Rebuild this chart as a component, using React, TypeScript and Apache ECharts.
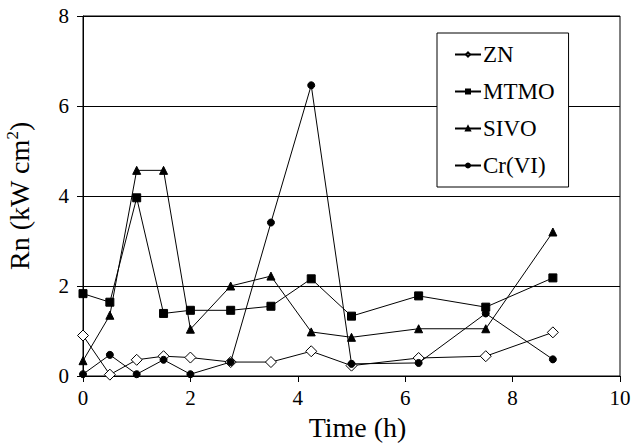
import React, { useEffect, useRef } from "react";
import * as echarts from "echarts";

const timeH = [0, 0.5, 1, 1.5, 2, 2.75, 3.5, 4.25, 5, 6.25, 7.5, 8.75];
const znValues = [0.9, 0.03, 0.36, 0.44, 0.41, 0.31, 0.31, 0.55, 0.23, 0.4, 0.44, 0.97];
const mtmoValues = [1.83, 1.64, 3.96, 1.39, 1.46, 1.46, 1.55, 2.16, 1.33, 1.78, 1.53, 2.18];
const sivoValues = [0.34, 1.35, 4.57, 4.57, 1.04, 2.0, 2.22, 0.98, 0.86, 1.05, 1.05, 3.2];
const crValues = [0.04, 0.47, 0.04, 0.36, 0.04, 0.31, 3.41, 6.46, 0.27, 0.29, 1.39, 0.37];
const seriesNames = ["ZN", "MTMO", "SIVO", "Cr(VI)"];

const FONT = "'Times New Roman', 'Liberation Serif', serif";

export default function App() {
  const ref = useRef<HTMLDivElement>(null);
  useEffect(() => {
    if (!ref.current) return;
    const chart = echarts.init(ref.current, undefined, { renderer: "svg" });
    const pair = (vals: number[]) => timeH.map((t, i) => [t, vals[i]]);
    const base = {
      type: "line",
      lineStyle: { color: "#000", width: 1 },
      itemStyle: { color: "#000", borderColor: "#000", borderWidth: 1 },
      showSymbol: true,
    };
    const tickLabel = (margin: number) => ({
      fontFamily: FONT,
      fontSize: 21,
      color: "#000",
      margin,
      formatter: "{t|{value}}",
      rich: { t: { fontFamily: FONT, fontSize: 21, color: "#000" } },
    });
    chart.setOption({
      animation: false,
      backgroundColor: "#fff",
      textStyle: { fontFamily: FONT, color: "#000" },
      grid: {
        left: 83,
        right: 16,
        top: 16,
        bottom: 69,
        containLabel: false,
        outerBoundsMode: "none",
        show: true,
        borderColor: "#000",
        borderWidth: 1,
        backgroundColor: "transparent",
      },
      legend: {
        orient: "vertical",
        left: 437,
        top: 33,
        padding: [10, 14, 10, 17],
        backgroundColor: "#fff",
        borderColor: "#000",
        borderWidth: 1,
        borderRadius: 0,
        itemWidth: 26,
        itemHeight: 5,
        itemGap: 14,
        textStyle: { fontFamily: FONT, fontSize: 23, color: "#000", padding: [0, 0, 0, -3] },
        data: seriesNames,
      },
      xAxis: {
        type: "value",
        min: 0,
        max: 10,
        interval: 2,
        name: "Time (h)",
        nameLocation: "middle",
        nameGap: 37,
        nameTextStyle: { fontFamily: FONT, fontSize: 28, color: "#000", padding: [0, 0, 0, 12] },
        axisLine: { show: true, lineStyle: { color: "#000", width: 1 } },
        axisTick: { show: true, inside: false, length: 6, lineStyle: { color: "#000" } },
        axisLabel: tickLabel(11),
        splitLine: { show: false },
      },
      yAxis: {
        type: "value",
        min: 0,
        max: 8,
        interval: 2,
        name: "Rn (kW cm{sup|2})",
        nameLocation: "middle",
        nameGap: 48,
        nameTextStyle: {
          fontFamily: FONT,
          fontSize: 28,
          color: "#000",
          rich: {
            sup: { fontFamily: FONT, fontSize: 17, color: "#000", verticalAlign: "top", padding: [0, 0, 14, 0] },
          },
        },
        axisLine: { show: true, lineStyle: { color: "#000", width: 1 } },
        axisTick: { show: true, inside: false, length: 6, lineStyle: { color: "#000" } },
        axisLabel: tickLabel(14),
        splitLine: { show: true, lineStyle: { color: "#000", width: 1 } },
      },
      series: [
        {
          ...base,
          name: "ZN",
          symbol: "diamond",
          symbolSize: 11,
          itemStyle: { color: "#fff", borderColor: "#000", borderWidth: 1 },
          data: pair(znValues),
        },
        { ...base, name: "MTMO", symbol: "rect", symbolSize: 8, data: pair(mtmoValues) },
        { ...base, name: "SIVO", symbol: "triangle", symbolSize: 8, data: pair(sivoValues) },
        { ...base, name: "Cr(VI)", symbol: "circle", symbolSize: 7, data: pair(crValues) },
      ],
    });
    return () => chart.dispose();
  }, []);
  return (
    <div
      ref={ref}
      style={{ position: "absolute", left: 0, top: 0, width: 636, height: 445 }}
    />
  );
}
